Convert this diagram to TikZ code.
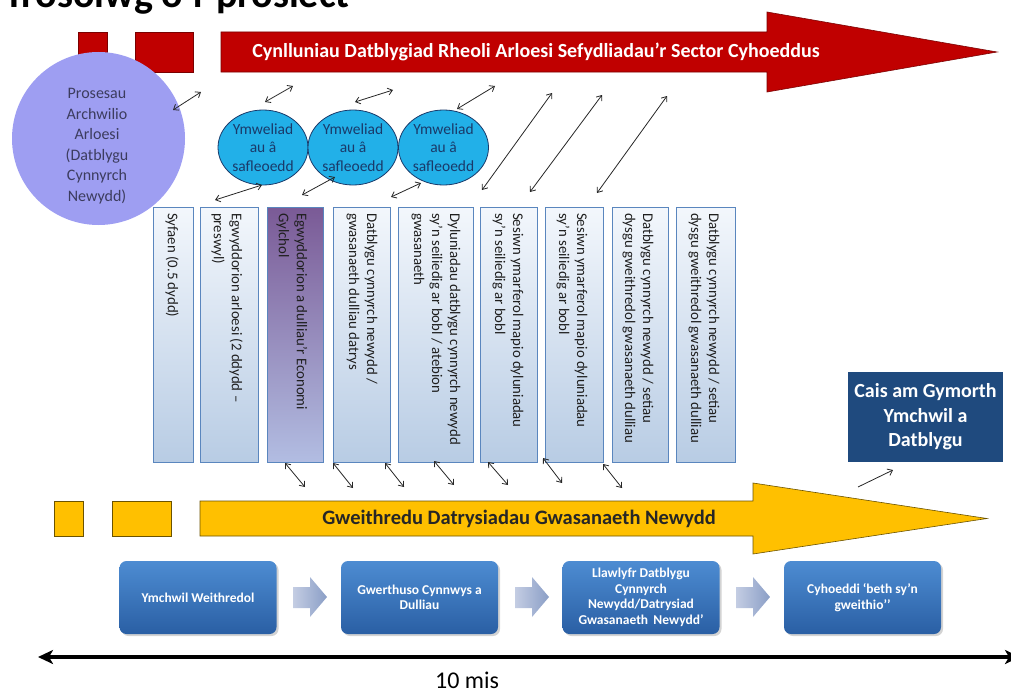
\documentclass[tikz,border=0pt]{standalone}
\usepackage{fontspec}
\setmainfont{Carlito}
\usetikzlibrary{arrows.meta,shadows,shapes.geometric}
\definecolor{redA}{HTML}{C00000}
\definecolor{redB}{HTML}{7A0000}
\definecolor{yelA}{HTML}{FFC000}
\definecolor{yelB}{HTML}{6B5300}
\definecolor{circF}{HTML}{9E9EF2}
\definecolor{circT}{HTML}{3C3C5E}
\definecolor{cyanE}{HTML}{22B0E8}
\definecolor{navyE}{HTML}{1A3A6A}
\definecolor{boxTop}{HTML}{F3F7FC}
\definecolor{boxBot}{HTML}{B8CCE4}
\definecolor{boxLine}{HTML}{5A86BE}
\definecolor{purTop}{HTML}{7A5A96}
\definecolor{purBot}{HTML}{B2BDE2}
\definecolor{stepTop}{HTML}{4D8CD2}
\definecolor{stepBot}{HTML}{2A5FA4}
\definecolor{caisF}{HTML}{1F4A7E}
\definecolor{gArrL}{HTML}{C4CDE3}
\definecolor{gArrR}{HTML}{8A9EC6}
\begin{document}
\begin{tikzpicture}[x=1pt,y=-1pt,
  dar/.style={{Straight Barb[length=4.5pt,width=7pt]}-{Straight Barb[length=4.5pt,width=7pt]}, line width=0.8pt, draw=black!85},
  sar/.style={-{Straight Barb[length=4.5pt,width=7pt]}, line width=0.8pt, draw=black!85},
  redsq/.style={draw=redB, line width=0.6pt, fill=redA, minimum height=40pt, inner sep=0},
  yelsq/.style={draw=yelB, line width=0.6pt, fill=yelA, minimum height=35pt, inner sep=0},
  ell/.style={ellipse, draw=navyE, line width=0.8pt, fill=cyanE, minimum width=90pt, minimum height=75pt, inner sep=0, align=center, text=navyE, font=\fontsize{15.5}{18.5}\selectfont},
  vbox/.style={draw=boxLine, line width=0.6pt, top color=boxTop, bottom color=boxBot, minimum height=255pt, inner sep=0},
  pbox/.style={draw=boxLine, line width=0.6pt, top color=purTop, bottom color=purBot, minimum height=255pt, inner sep=0},
  vtext/.style={rotate=-90, anchor=west, align=left, inner sep=0, font=\fontsize{14.8}{18}\selectfont, text=black!88},
  stepbox/.style={rounded corners=7pt, top color=stepTop, bottom color=stepBot, minimum width=157pt, minimum height=73pt, inner sep=2pt, text=white, align=center, font=\fontsize{13.5}{15.5}\selectfont\bfseries, drop shadow={opacity=0.35, shadow xshift=2pt, shadow yshift=-2pt}},
  garr/.style={left color=gArrL, right color=gArrR, draw=none}
]
\useasboundingbox (0,0) rectangle (1011,693);

% title (cut at top)
\node[anchor=base west, inner sep=0, font=\fontsize{40}{40}\selectfont\bfseries] (title) at (4,8) {Trosolwg o’r prosiect};

% red squares and arrow
\node[redsq, minimum width=29pt] (r1) at (92.5,52) {};
\node[redsq, minimum width=58pt] (r2) at (164,52) {};
\path[draw=redB, line width=0.6pt, fill=redA] (221,32) -- (767,32) -- (767,12) -- (997,52) -- (767,92) -- (767,72) -- (221,72) -- cycle;
\node[text=white, font=\fontsize{20}{20}\selectfont\bfseries] (redlbl) at (536,52) {Cynlluniau Datblygiad Rheoli Arloesi Sefydliadau’r Sector Cyhoeddus};

% circle
\node[circle, fill=circF, minimum size=173pt, inner sep=0] (circ) at (98.5,138.5) {};
\node[align=center, text=circT, font=\fontsize{16}{20.5}\selectfont] (circlbl) at (97,146) {Prosesau\\Archwilio\\Arloesi\\(Datblygu\\Cynnyrch\\Newydd)};

% ellipses
\node[ell] (e1) at (263,147.5) {Ymweliad\\au â\\safleoedd};
\node[ell] (e2) at (353,147.5) {Ymweliad\\au â\\safleoedd};
\node[ell] (e3) at (443.5,147.5) {Ymweliad\\au â\\safleoedd};

% vertical boxes
\node[vbox, minimum width=40pt] (v1) at (173,334.5) {};
\node[vbox, minimum width=58pt] (v2) at (229,334.5) {};
\node[pbox, minimum width=56pt] (v3) at (295,334.5) {};
\node[vbox, minimum width=57pt] (v4) at (361.5,334.5) {};
\node[vbox, minimum width=75pt] (v5) at (435.5,334.5) {};
\node[vbox, minimum width=57pt] (v6) at (508.5,334.5) {};
\node[vbox, minimum width=58pt] (v7) at (574,334.5) {};
\node[vbox, minimum width=56pt] (v8) at (640,334.5) {};
\node[vbox, minimum width=59pt] (v9) at (705.5,334.5) {};

\node[vtext] (t1) at (172,213) {Syfaen (0.5 dydd)};
\node[vtext] (t2) at (227,213) {Egwyddorion arloesi (2 ddydd –\\preswyl)};
\node[vtext] (t3) at (292,213) {Egwyddorion a dulliau’r Economi\\Gylchol};
\node[vtext] (t4) at (362,213) {Datblygu cynnyrch newydd /\\gwasanaeth dulliau datrys};
\node[vtext] (t5) at (436,213) {Dyluniadau datblygu cynnyrch newydd\\sy’n seiliedig ar bobl / atebion\\gwasanaeth};
\node[vtext] (t6) at (508,213) {Sesiwn ymarferol mapio dyluniadau\\sy’n seiliedig ar bobl};
\node[vtext] (t7) at (572,213) {Sesiwn ymarferol mapio dyluniadau\\sy’n seiliedig ar bobl};
\node[vtext] (t8) at (638,213) {Datblygu cynnyrch newydd / setiau\\dysgu gweithredol gwasanaeth dulliau};
\node[vtext] (t9) at (704,213) {Datblygu cynnyrch newydd / setiau\\dysgu gweithredol gwasanaeth dulliau};

% upper double arrows
\draw[dar] (173,110) -- (201,92);
\draw[dar] (265,102) -- (293,86);
\draw[dar] (355,102) -- (393,90);
\draw[dar] (457,109) -- (495,86);
\draw[dar] (482,190) -- (552,93);
\draw[dar] (530,192) -- (602,95);
\draw[dar] (597,193) -- (667,96);
\draw[dar] (215,200) -- (262,185);
\draw[dar] (302,195) -- (335,177);
\draw[dar] (391,197) -- (421,183);

% lower double arrows
\draw[dar] (285,463) -- (305,487);
\draw[dar] (333,463) -- (353,488);
\draw[dar] (385,463) -- (404,487);
\draw[dar] (434,461) -- (454,485);
\draw[dar] (488,462) -- (508,485);
\draw[dar] (543,458) -- (562,483);
\draw[dar] (603,464) -- (622,488);

% Cais box
\node[fill=caisF, minimum width=155pt, minimum height=90pt, inner sep=0, text=white, align=center, font=\fontsize{20}{24.5}\selectfont\bfseries] (cais) at (925.5,417) {Cais am Gymorth\\Ymchwil a\\Datblygu};
\coordinate (caisTail) at (858,487);
\coordinate (caisTip) at (893,470);
\draw[sar] (caisTail) -- (caisTip);

% yellow squares and arrow
\node[yelsq, minimum width=29pt] (y1) at (68.5,518.5) {};
\node[yelsq, minimum width=59pt] (y2) at (141.5,518.5) {};
\path[draw=yelB, line width=0.6pt, fill=yelA] (200,501) -- (753,501) -- (753,483) -- (987,518.5) -- (753,554) -- (753,536) -- (200,536) -- cycle;
\node[text=black!85, font=\fontsize{20.5}{20.5}\selectfont\bfseries] (yellbl) at (519,518.5) {Gweithredu Datrysiadau Gwasanaeth Newydd};

% bottom process steps
\node[stepbox] (s1) at (198,597.5) {Ymchwil Weithredol};
\node[stepbox] (s2) at (419.5,597.5) {Gwerthuso Cynnwys a\\Dulliau};
\node[stepbox] (s3) at (641,597.5) {Llawlyfr Datblygu\\Cynnyrch\\Newydd/Datrysiad\\Gwasanaeth\, Newydd’};
\node[stepbox] (s4) at (862.5,597.5) {Cyhoeddi ‘beth sy’n\\gweithio’’};

\path[garr] (293,587) -- (310,587) -- (310,577) -- (327,597) -- (310,617) -- (310,608) -- (293,608) -- cycle;
\path[garr] (515,587) -- (532,587) -- (532,577) -- (549,597) -- (532,617) -- (532,608) -- (515,608) -- cycle;
\path[garr] (736,587) -- (753,587) -- (753,577) -- (770,597) -- (753,617) -- (753,608) -- (736,608) -- cycle;

% time line
\coordinate (tl) at (38,657);
\coordinate (tr) at (1020,657);
\draw[line width=3.5pt, {Stealth[length=15pt,width=14pt,inset=4pt]}-{Stealth[length=15pt,width=14pt,inset=4pt]}] (tl) -- (tr);
\node[anchor=base, inner sep=0, font=\fontsize{24}{24}\selectfont] (mis) at (467,688) {10 mis};
\end{tikzpicture}
\end{document}
